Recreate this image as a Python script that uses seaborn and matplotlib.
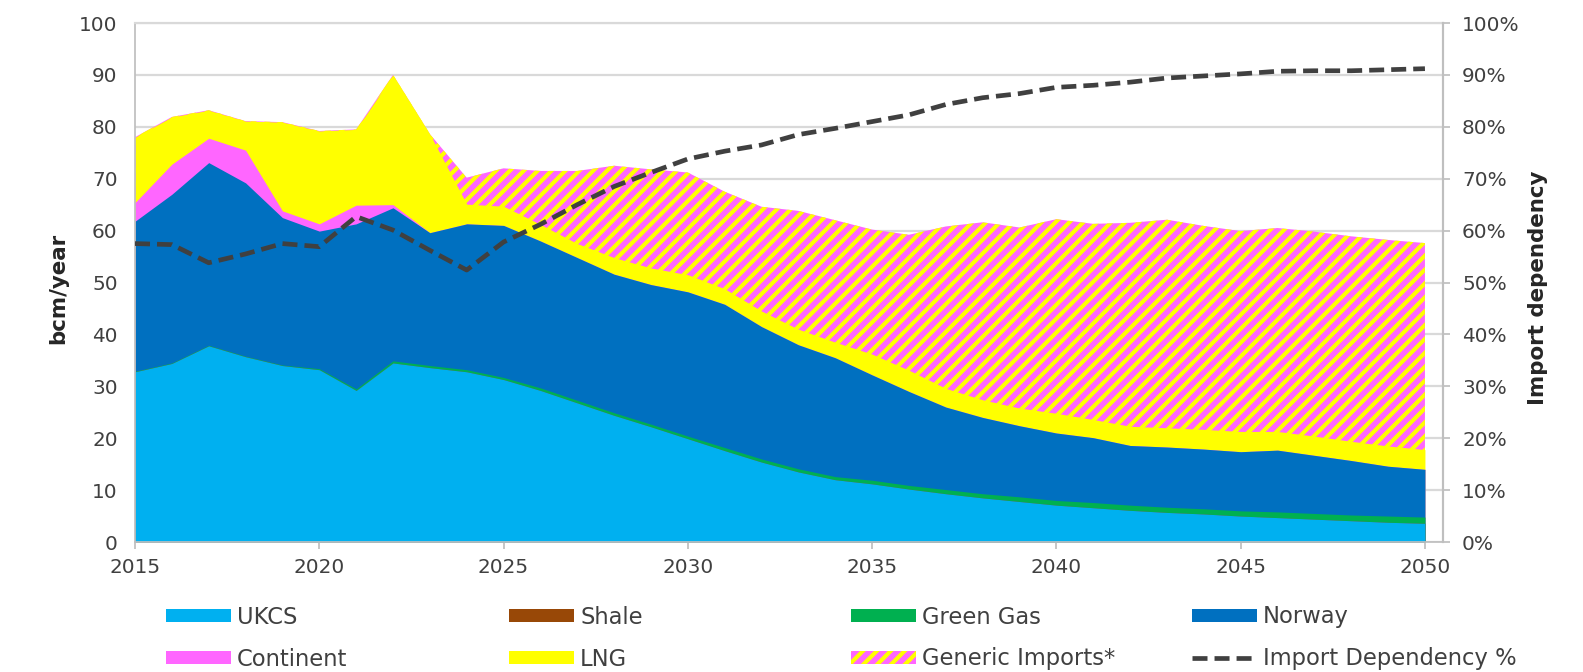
import matplotlib
matplotlib.use("Agg")
import matplotlib.pyplot as plt
import numpy as np
import pandas as pd
import seaborn as sns
from matplotlib.lines import Line2D
from matplotlib.patches import Patch

years = list(range(2015, 2051))

# bcm/year per supply source
ukcs = [32.8, 34.4, 37.8, 35.7, 34.0, 33.2, 29.2, 34.5, 33.6, 32.8,
        31.3, 29.2, 26.8, 24.4, 22.2, 19.9, 17.6, 15.4, 13.5, 12.0,
        11.2, 10.2, 9.3, 8.5, 7.8, 7.1, 6.6, 6.1, 5.7, 5.4,
        5.0, 4.7, 4.4, 4.1, 3.8, 3.6]
shale = [0.0] * len(years)
green_gas = [0.1, 0.1, 0.1, 0.1, 0.1, 0.2, 0.3, 0.4, 0.4, 0.4,
             0.4, 0.5, 0.5, 0.5, 0.5, 0.5, 0.6, 0.6, 0.6, 0.6,
             0.7, 0.7, 0.8, 0.8, 0.9, 0.9, 1.0, 1.0, 1.0, 1.0,
             1.0, 1.1, 1.1, 1.1, 1.2, 1.2]
norway = [28.9, 32.5, 35.2, 33.4, 28.4, 26.5, 31.8, 29.5, 25.6, 28.1,
          29.3, 28.3, 27.5, 26.7, 26.9, 27.8, 27.6, 25.5, 23.9, 22.9,
          20.3, 18.1, 15.9, 14.7, 13.7, 13.0, 12.5, 11.5, 11.6, 11.5,
          11.4, 11.9, 11.2, 10.5, 9.6, 9.2]
continent = [3.6, 5.8, 4.7, 6.3, 1.3, 1.4, 3.6, 0.6, 0.0, 0.0,
             0.0, 0.0, 0.0, 0.0, 0.0, 0.0, 0.0, 0.0, 0.0, 0.0,
             0.0, 0.0, 0.0, 0.0, 0.0, 0.0, 0.0, 0.0, 0.0, 0.0,
             0.0, 0.0, 0.0, 0.0, 0.0, 0.0]
lng = [12.6, 9.1, 5.4, 5.6, 17.1, 17.9, 14.6, 25.0, 19.0, 3.8,
       3.7, 3.2, 2.7, 3.2, 3.2, 3.3, 3.0, 3.0, 3.0, 3.0,
       4.0, 4.1, 3.6, 3.4, 3.4, 3.8, 3.5, 3.7, 3.7, 3.8,
       3.9, 3.6, 3.7, 3.7, 3.9, 3.8]
generic = [0.0, 0.0, 0.0, 0.0, 0.0, 0.0, 0.0, 0.0, 0.0, 5.1,
           7.3, 10.3, 14.0, 17.7, 19.0, 19.7, 18.7, 20.1, 22.8, 23.5,
           24.0, 26.1, 31.2, 34.2, 34.8, 37.4, 37.7, 39.2, 40.1, 39.2,
           38.6, 39.2, 39.4, 39.5, 39.7, 39.8]

# import dependency, %
import_dep = [57.5, 57.3, 53.8, 55.5, 57.5, 56.9, 62.7, 60.1, 56.2, 52.4,
              57.8, 61.2, 65.0, 68.5, 71.2, 73.8, 75.3, 76.5, 78.5, 79.7,
              81.0, 82.3, 84.3, 85.6, 86.4, 87.6, 88.0, 88.6, 89.4, 89.8,
              90.2, 90.7, 90.8, 90.8, 91.0, 91.2]

labels = ["UKCS", "Shale", "Green Gas", "Norway", "Continent", "LNG",
          "Generic Imports*", "Import Dependency %"]
colors = ["#00B0F0", "#984807", "#00B050", "#0070C0", "#FF66FF", "#FFFF00"]
hatch_bg = "#FF66FF"
hatch_fg = "#FFFF00"
dep_color = "#404040"
dep_style = (0, (3.2, 1.5))

sns.set_theme(style="white")
plt.rcParams["font.family"] = ["DejaVu Sans"]
plt.rcParams["hatch.linewidth"] = 2.4
plt.rcParams["hatch.color"] = hatch_fg

fig = plt.figure(figsize=(12.664, 5.376), dpi=125)
ax = fig.add_axes([0.08528, 0.19345, 0.82628, 0.77232])

layers = [ukcs, shale, green_gas, norway, continent, lng, generic]
tops = np.cumsum(np.array(layers), axis=0)

# draw each cumulative top from zero, biggest first, so no seams show
ax.fill_between(years, 0, tops[6], facecolor=hatch_bg, edgecolor=hatch_fg,
                hatch="///", linewidth=0, zorder=2)
for i in range(5, -1, -1):
    ax.fill_between(years, 0, tops[i], color=colors[i], linewidth=0, zorder=2)

ax.set_xlim(2015, 2050.49)
ax.set_ylim(0, 100)
ax.set_xticks(range(2015, 2051, 5))
ax.set_yticks(range(0, 101, 10))
ax.set_axisbelow(True)
ax.yaxis.grid(True, color="#d9d9d9", linewidth=1.3)
ax.xaxis.grid(False)
ax.tick_params(axis="y", length=0, pad=10, labelsize=11.5, labelcolor="#404040")
ax.tick_params(axis="x", length=4, width=1, color="#bfbfbf", direction="out",
               pad=5, labelsize=11.5, labelcolor="#404040", bottom=True)
for side in ["left", "bottom", "right"]:
    ax.spines[side].set_color("#bfbfbf")
    ax.spines[side].set_linewidth(1)
ax.spines["top"].set_color("#d9d9d9")

ax2 = ax.twinx()
dep_df = pd.DataFrame({"year": years, "dep": import_dep})
sns.lineplot(data=dep_df, x="year", y="dep", ax=ax2, color=dep_color,
             linewidth=2.7, linestyle=dep_style, legend=False, zorder=5)
ax2.set_ylim(0, 100)
ax2.set_yticks(range(0, 101, 10))
ax2.set_yticklabels([f"{v}%" for v in range(0, 101, 10)])
ax2.set_ylabel("")
ax2.set_xlabel("")
ax.set_xlabel("")
ax2.tick_params(axis="y", length=4, width=1, color="#bfbfbf", direction="out",
                pad=7, labelsize=11.5, labelcolor="#404040", right=True)
for side in ["left", "bottom", "top"]:
    ax2.spines[side].set_visible(False)
ax2.spines["right"].set_color("#bfbfbf")

fig.text(58 / 1583, 1 - 288 / 672, "bcm/year", rotation=90, ha="center",
         va="center", fontsize=12.3, fontweight="bold", color="#262626")
fig.text(1538 / 1583, 1 - 288 / 672, "Import dependency", rotation=90,
         ha="center", va="center", fontsize=12.3, fontweight="bold",
         color="#262626")

handles = [Patch(facecolor=c, edgecolor="none") for c in colors]
handles.append(Patch(facecolor=hatch_bg, edgecolor=hatch_fg, hatch="///",
                     linewidth=0))
handles.append(Line2D([], [], color=dep_color, linewidth=2.7,
                      linestyle=dep_style))

col_x = [166, 509, 851, 1192]
row_y = [617, 659]
for k, (h, lab) in enumerate(zip(handles, labels)):
    x = col_x[k % 4] / 1583
    y = 1 - row_y[k // 4] / 672
    fig.legend([h], [lab], loc="center left", bbox_to_anchor=(x, y),
               frameon=False, fontsize=13, handlelength=2.88,
               handleheight=0.53, handletextpad=0.27, borderpad=0,
               borderaxespad=0, labelcolor="#404040")

fig.savefig("out.png", dpi=125)
